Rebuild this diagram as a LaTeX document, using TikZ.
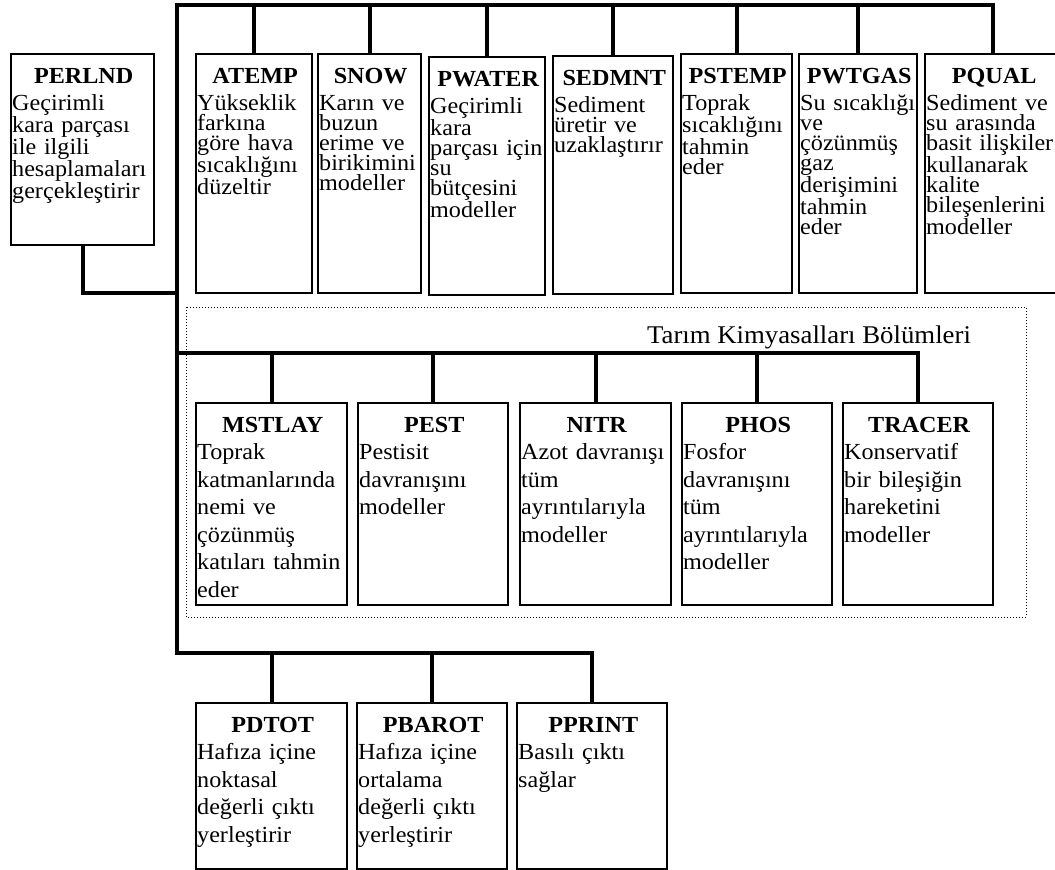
\documentclass[tikz,border=0pt]{standalone}
\usepackage{fontspec}
\setmainfont{Liberation Serif}[FakeStretch=1.05]

\newcommand{\modul}[8][lowtext]{%
	\node [modbox, minimum width=#5pt, minimum height=#6pt] (#2) at (#3,#4) {};
	\node [modtext, #1, text width=#5pt] at (#2.north west)
	{{\centering\bfseries #7\par}\vskip\dimexpr27.5pt-\baselineskip\relax #8};
}

\begin{document}
\begin{tikzpicture}[x=1pt, y=-1pt,
	modbox/.style={draw, line width=2pt, anchor=north west, inner sep=0pt},
	modtext/.style={anchor=north west, inner xsep=2pt, inner ysep=15pt, align=left},
	toptext/.style={font=\fontsize{23}{20}\selectfont},
	lowtext/.style={font=\fontsize{23}{27.5}\selectfont},
	bus/.style={line width=4pt},
	agroframe/.style={line width=1pt, dash pattern=on 1pt off 2pt}]
	
	\useasboundingbox (0,0) rectangle (1055,870);
	\clip (0,0) rectangle (1055,870);
	
	\draw [agroframe] (186,307) rectangle (1026,617);
	\node [font=\fontsize{25.5}{30}\selectfont, anchor=base] (agrotitle) at (809,343) {Tarım Kimyasalları Bölümleri};
	
	\modul[toptext]{perlnd}{10}{53}{143}{191}{PERLND}{Geçirimli\\kara~parçası\\ile~ilgili\\hesaplamaları\\gerçekleştirir}
	\modul[toptext]{atemp}{195}{53}{116}{239}{ATEMP}{Yükseklik\\farkına\\göre~hava\\sıcaklığını\\düzeltir}
	\modul[toptext]{snow}{317}{53}{103}{239}{SNOW}{Karın~ve\\buzun\\erime~ve\\birikimini\\modeller}
	\modul[toptext]{pwater}{428}{56}{116}{238}{PWATER}{Geçirimli\\kara\\parçası~için\\su\\bütçesini\\modeller}
	\modul[toptext]{sedmnt}{552}{55}{120}{238}{SEDMNT}{Sediment\\üretir~ve\\uzaklaştırır}
	\modul[toptext]{pstemp}{680}{53}{111}{239}{PSTEMP}{Toprak\\sıcaklığını\\tahmin\\eder}
	\modul[toptext]{pwtgas}{798}{53}{118}{239}{PWTGAS}{Su~sıcaklığı\\ve\\çözünmüş\\gaz\\derişimini\\tahmin\\eder}
	\modul[toptext]{pqual}{924}{53}{136}{239}{PQUAL}{Sediment~ve\\su~arasında\\basit~ilişkiler\\kullanarak\\kalite\\bileşenlerini\\modeller}
	
	\modul{mstlay}{195}{402}{151}{202}{MSTLAY}{Toprak\\katmanlarında\\nemi~ve\\çözünmüş\\katıları~tahmin\\eder}
	\modul{pest}{357}{402}{150}{202}{PEST}{Pestisit\\davranışını\\modeller}
	\modul{nitr}{519}{402}{151}{202}{NITR}{Azot~davranışı\\tüm\\ayrıntılarıyla\\modeller}
	\modul{phos}{681}{402}{150}{202}{PHOS}{Fosfor\\davranışını\\tüm\\ayrıntılarıyla\\modeller}
	\modul{tracer}{842}{402}{150}{202}{TRACER}{Konservatif\\bir~bileşiğin\\hareketini\\modeller}
	
	\modul{pdtot}{195}{702}{151}{166}{PDTOT}{Hafıza~içine\\noktasal\\değerli~çıktı\\yerleştirir}
	\modul{pbarot}{356}{702}{150}{166}{PBAROT}{Hafıza~içine\\ortalama\\değerli~çıktı\\yerleştirir}
	\modul{pprint}{516}{702}{150}{166}{PPRINT}{Basılı~çıktı\\sağlar}
	
	\coordinate (ttop) at (177,5);
	\coordinate (tjoin) at (177,293);
	\coordinate (tagro) at (177,353);
	\coordinate (tbot) at (177,653);
	
	\draw [bus] (pqual.north) |- (ttop) -- (tbot) -| (pprint.north);
	\draw [bus] (perlnd.south) |- (tjoin);
	\draw [bus] (tagro) -| (tracer.north);
	
	\foreach \m in {atemp,snow,pwater,sedmnt,pstemp,pwtgas}
	\draw [bus] (\m.north) -- (\m.north |- ttop);
	\foreach \m in {mstlay,pest,nitr,phos}
	\draw [bus] (\m.north) -- (\m.north |- tagro);
	\foreach \m in {pdtot,pbarot}
	\draw [bus] (\m.north) -- (\m.north |- tbot);
	
\end{tikzpicture}
\end{document}
